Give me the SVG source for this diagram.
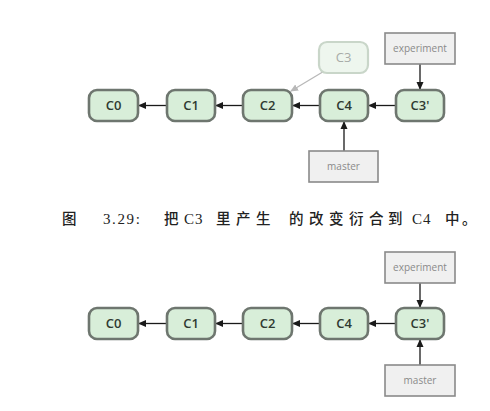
<svg xmlns="http://www.w3.org/2000/svg" width="490" height="411" viewBox="0 0 490 411">
<defs>
<style>
.commit rect{fill:#d8eed9;stroke:#6e766f;stroke-width:2.6}
.commit text{font-family:"Open Sans","DejaVu Sans",sans-serif;font-size:13px;font-weight:600;fill:#2f3a31;text-anchor:middle}
.ghost rect{fill:#eef6ee;stroke:#c9d6c9;stroke-width:2.2}
.ghost text{font-family:"Open Sans","DejaVu Sans",sans-serif;font-size:13px;fill:#a8aca8;text-anchor:middle}
.ref rect{fill:#f0f0f0;stroke:#8a8a8a;stroke-width:1.6}
.ref text{font-family:"Open Sans","DejaVu Sans",sans-serif;font-size:10px;fill:#8a8a8a;text-anchor:middle}
.edge{stroke:#1a1a1a;stroke-width:1.3;fill:none;marker-end:url(#ah)}
.edge-g{stroke:#b8b8b8;stroke-width:1.3;fill:none;marker-end:url(#ahg)}
.cap{font-family:"Liberation Serif","Noto Sans CJK SC",serif;font-size:15px;fill:#222}
.cj{font-family:"Noto Sans CJK SC",serif;font-size:14.5px;font-weight:500}
</style>
<marker id="ah" markerWidth="8" markerHeight="8" refX="7" refY="4" orient="auto" markerUnits="userSpaceOnUse"><path d="M0,0.5 L8,4 L0,7.5 Z" fill="#1a1a1a"/></marker>
<marker id="ahg" markerWidth="8" markerHeight="8" refX="7" refY="4" orient="auto" markerUnits="userSpaceOnUse"><path d="M0,0.5 L8,4 L0,7.5 Z" fill="#b8b8b8"/></marker>
</defs>
<rect width="490" height="411" fill="#ffffff"/>

<g id="connectors-top">
<line class="edge" x1="167" y1="105.5" x2="139" y2="105.5"/>
<line class="edge" x1="243" y1="105.5" x2="216" y2="105.5"/>
<line class="edge" x1="320" y1="105.5" x2="293" y2="105.5"/>
<line class="edge" x1="396" y1="105.5" x2="369" y2="105.5"/>
<line class="edge" x1="420" y1="64" x2="420" y2="89"/>
<line class="edge" x1="344" y1="151" x2="344" y2="122"/>
<line class="edge-g" x1="326" y1="70" x2="291" y2="91"/>
</g>

<g id="top-C3-ghost" class="ghost"><rect x="319" y="42" width="49" height="31" rx="8"/><text x="343.5" y="62">C3</text></g>
<g id="top-C0" class="commit"><rect x="89" y="90" width="49" height="31" rx="8"/><text x="113.5" y="110">C0</text></g>
<g id="top-C1" class="commit"><rect x="167" y="90" width="48" height="31" rx="8"/><text x="191" y="110">C1</text></g>
<g id="top-C2" class="commit"><rect x="243" y="90" width="49" height="31" rx="8"/><text x="267.5" y="110">C2</text></g>
<g id="top-C4" class="commit"><rect x="320" y="90" width="48" height="31" rx="8"/><text x="344" y="110">C4</text></g>
<g id="top-C3p" class="commit"><rect x="396" y="90" width="48" height="31" rx="8"/><text x="420" y="110">C3'</text></g>
<g id="top-experiment" class="ref"><rect x="385" y="33" width="70" height="31"/><text x="420" y="52">experiment</text></g>
<g id="top-master" class="ref"><rect x="309" y="151" width="69" height="31"/><text x="343.5" y="170">master</text></g>

<g id="caption">
<text class="cap" y="224"><tspan class="cj" x="62">图</tspan><tspan x="103" letter-spacing="1.6">3.29:</tspan><tspan class="cj" x="164">把</tspan><tspan x="184" letter-spacing="1">C3</tspan><tspan class="cj" x="216">里</tspan><tspan class="cj" x="236">产</tspan><tspan class="cj" x="256">生</tspan><tspan class="cj" x="289">的</tspan><tspan class="cj" x="309">改</tspan><tspan class="cj" x="329">变</tspan><tspan class="cj" x="349">衍</tspan><tspan class="cj" x="369">合</tspan><tspan class="cj" x="388">到</tspan><tspan x="412" letter-spacing="1">C4</tspan><tspan class="cj" x="445">中</tspan><tspan class="cj" x="462">。</tspan></text>
</g>

<g id="connectors-bottom">
<line class="edge" x1="167" y1="323.5" x2="139" y2="323.5"/>
<line class="edge" x1="243" y1="323.5" x2="216" y2="323.5"/>
<line class="edge" x1="320" y1="323.5" x2="293" y2="323.5"/>
<line class="edge" x1="396" y1="323.5" x2="369" y2="323.5"/>
<line class="edge" x1="420" y1="283" x2="420" y2="307"/>
<line class="edge" x1="420" y1="365" x2="420" y2="340"/>
</g>

<g id="bot-C0" class="commit"><rect x="89" y="308" width="49" height="31" rx="8"/><text x="113.5" y="328">C0</text></g>
<g id="bot-C1" class="commit"><rect x="167" y="308" width="48" height="31" rx="8"/><text x="191" y="328">C1</text></g>
<g id="bot-C2" class="commit"><rect x="243" y="308" width="49" height="31" rx="8"/><text x="267.5" y="328">C2</text></g>
<g id="bot-C4" class="commit"><rect x="320" y="308" width="48" height="31" rx="8"/><text x="344" y="328">C4</text></g>
<g id="bot-C3p" class="commit"><rect x="396" y="308" width="48" height="31" rx="8"/><text x="420" y="328">C3'</text></g>
<g id="bot-experiment" class="ref"><rect x="385" y="252" width="70" height="31"/><text x="420" y="271">experiment</text></g>
<g id="bot-master" class="ref"><rect x="385" y="365" width="70" height="31"/><text x="420" y="384">master</text></g>
</svg>
